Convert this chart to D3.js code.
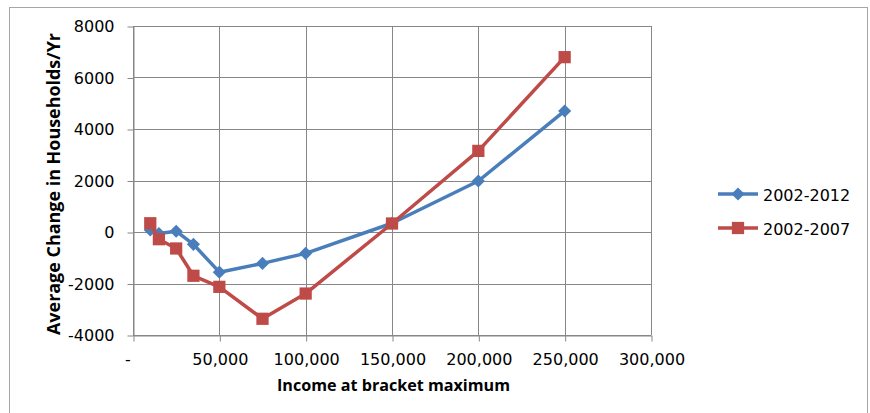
<!DOCTYPE html>
<html>
<head>
<meta charset="utf-8">
<script src="https://cdn.jsdelivr.net/npm/d3@7"></script>
<style>
  html, body { margin: 0; padding: 0; background: #fff; }
  svg { display: block; font-family: "DejaVu Sans", sans-serif; }
</style>
</head>
<body>
<svg id="chart" width="870" height="413"></svg>
<script>
// Income bracket maxima (x) and average yearly change in households (y)
const incomes2012 = [10000, 15000, 25000, 35000, 50000, 75000, 100000, 150000, 200000, 250000];
const change2012  = [80, -60, 30, -480, -1560, -1220, -830, 340, 1980, 4700];
const incomes2007 = [10000, 15000, 25000, 35000, 50000, 75000, 100000, 150000, 200000, 250000];
const change2007  = [340, -280, -640, -1700, -2130, -3370, -2390, 330, 3150, 6790];

const seriesNames = ["2002-2012", "2002-2007"];
const seriesColors = ["#4a7ebb", "#be4b48"];

const xTicks = [0, 50000, 100000, 150000, 200000, 250000, 300000];
const yTicks = [-4000, -2000, 0, 2000, 4000, 6000, 8000];

const xTitle = "Income at bracket maximum";
const yTitle = "Average Change in Households/Yr";

const svg = d3.select("#chart");
const plot = { left: 133, right: 651, top: 26, bottom: 335 };
const labelFont = "'DejaVu Sans', sans-serif";
const titleFont = "'Open Sans', Lato, sans-serif";

// Outer chart frame
svg.append("rect")
  .attr("x", 9.5).attr("y", 7.5)
  .attr("width", 858).attr("height", 420)
  .attr("fill", "#fff").attr("stroke", "#a6a6a6").attr("stroke-width", 1);

const x = d3.scaleLinear().domain([0, 300000]).range([plot.left, plot.right]);
const y = d3.scaleLinear().domain([-4000, 8000]).range([plot.bottom, plot.top]);

const gridColor = "#878787";

// Gridlines
const grid = svg.append("g");
grid.selectAll("line.h").data(yTicks).join("line")
  .attr("x1", plot.left).attr("x2", plot.right)
  .attr("y1", d => Math.round(y(d)) + 0.5).attr("y2", d => Math.round(y(d)) + 0.5)
  .attr("stroke", gridColor).attr("stroke-width", 1);
grid.selectAll("line.v").data(xTicks).join("line")
  .attr("y1", plot.top).attr("y2", plot.bottom)
  .attr("x1", d => Math.round(x(d)) + 0.5).attr("x2", d => Math.round(x(d)) + 0.5)
  .attr("stroke", gridColor).attr("stroke-width", 1);

// Axes (plain hyphen for negatives, dash for zero income)
const fmtX = d => d === 0 ? "-" : d3.format(",")(d);
const fmtY = d => String(d);
const xAxis = svg.append("g")
  .attr("transform", `translate(0.5,${Math.round(y(-4000)) + 0.5})`)
  .call(d3.axisBottom(x).tickValues(xTicks).tickFormat(fmtX).tickSize(6).tickSizeOuter(0).tickPadding(12));
const yAxis = svg.append("g")
  .attr("transform", `translate(${plot.left + 0.5},0.5)`)
  .call(d3.axisLeft(y).tickValues(yTicks).tickFormat(fmtY).tickSize(6).tickSizeOuter(0).tickPadding(13));

[xAxis, yAxis].forEach(a => {
  a.select(".domain").attr("stroke", gridColor);
  a.selectAll(".tick line").attr("stroke", gridColor);
  a.selectAll("text").attr("fill", "#000").attr("font-size", 16)
    .attr("font-family", labelFont);
});
xAxis.selectAll(".tick text").filter(d => d === 0).attr("dx", -6);

// Axis titles
svg.append("text")
  .attr("x", 277).attr("y", 391)
  .attr("font-family", titleFont)
  .attr("font-size", 16).attr("font-weight", "bold")
  .attr("textLength", 233).attr("lengthAdjust", "spacingAndGlyphs")
  .text(xTitle);
svg.append("text")
  .attr("transform", `translate(60,335) rotate(-90)`)
  .attr("font-family", titleFont)
  .attr("font-size", 18).attr("font-weight", "bold")
  .attr("textLength", 302).attr("lengthAdjust", "spacingAndGlyphs")
  .text(yTitle);

// Series
const series = [
  { name: seriesNames[0], color: seriesColors[0], shape: "diamond",
    pts: incomes2012.map((v, i) => [v, change2012[i]]) },
  { name: seriesNames[1], color: seriesColors[1], shape: "square",
    pts: incomes2007.map((v, i) => [v, change2007[i]]) }
];

const line = d3.line().x(d => x(d[0])).y(d => y(d[1]));
const diamond = d3.symbol().type(d3.symbolDiamond2).size(110);
const square = d3.symbol().type(d3.symbolSquare).size(150);

function drawMarker(g, shape, color, cx, cy) {
  g.append("path").attr("d", shape === "diamond" ? diamond() : square())
    .attr("transform", `translate(${cx},${cy})`).attr("fill", color);
}

series.forEach(s => {
  const g = svg.append("g");
  g.append("path").datum(s.pts).attr("d", line)
    .attr("fill", "none").attr("stroke", s.color)
    .attr("stroke-width", 3.5).attr("stroke-linejoin", "round");
  s.pts.forEach(p => drawMarker(g, s.shape, s.color, x(p[0]), y(p[1])));
});

// Legend
const legend = svg.append("g");
series.forEach((s, i) => {
  const ly = 194 + i * 34;
  legend.append("line")
    .attr("x1", 718).attr("x2", 758).attr("y1", ly).attr("y2", ly)
    .attr("stroke", s.color).attr("stroke-width", 3.5);
  drawMarker(legend, s.shape, s.color, 738, ly);
  legend.append("text")
    .attr("x", 763).attr("y", ly + 7)
    .attr("font-family", labelFont)
    .attr("font-size", 16)
    .text(s.name);
});
</script>
</body>
</html>
